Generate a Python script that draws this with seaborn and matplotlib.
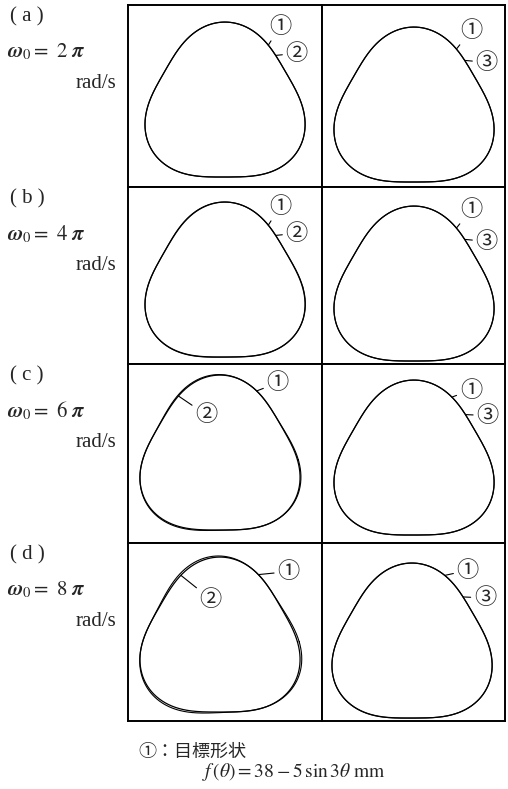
import numpy as np
import pandas as pd
import matplotlib
matplotlib.use("Agg")
import matplotlib.pyplot as plt
import seaborn as sns

sns.set_theme(style="white")
plt.rcParams["font.family"] = ["Liberation Serif", "Noto Sans CJK JP", "DejaVu Sans"]
plt.rcParams["mathtext.fontset"] = "stix"

# Target profile f(theta) = 38 - 5 sin 3theta  [mm]
base_radius = 38.0
ripple_amp = 5.0
lobes = 3

# Test cases
row_tags = ["( a )", "( b )", "( c )", "( d )"]
omega_multiples = [2, 4, 6, 8]          # omega_0 = k*pi rad/s
column_marks = ["②", "③"]

# Tracked contour per case: amplitude gain, phase lag [deg], radial offset [mm]
gain_2 = [1.00, 1.00, 1.02, 1.04]
lag_2 = [1.0, 2.0, 4.0, 7.0]
offset_2 = [0.0, 0.05, 0.25, 0.55]
gain_3 = [1.00, 1.00, 1.00, 1.00]
lag_3 = [0.5, 0.5, 0.8, 1.0]
offset_3 = [0.0, 0.0, 0.0, 0.05]

# ---- layout (figure pixels) ----
W, H = 508, 789
col_edges = [128, 322, 505]
row_edges = [5, 187, 364, 543, 721]
px_per_unit = 1.49          # radial display scale
r_origin = -14.0            # radial axis origin of every polar panel
r_max = 46.0
# curve centre inside each panel (pixels from the panel's top-left corner)
centre = [[(97, 102), (92, 107)],
          [(97, 100), (92, 104)],
          [(92, 96), (92, 101)],
          [(92, 99), (90, 105)]]

# leader angle on the curve [deg], label offset in pixels (dx, dy up)
lead_1 = [[(55.0, (12, 19)), (56.0, (15, 19))],
          [(55.0, (12, 19)), (56.0, (15, 19))],
          [(62.0, (21, 8)), (60.8, (19, 7))],
          [(60.3, (30, 3)), (65.7, (23, 5))]]
lead_r = [[(45.5, (21, 2)), (45.5, (22, -2))],
          [(45.5, (21, 2)), (45.5, (22, -2))],
          [(123.0, (28, -19)), (44.4, (22, -1))],
          [(120.4, (30, -24)), (45.0, (22, -1))]]

fig = plt.figure(figsize=(W / 100, H / 100), dpi=100)
fig.patch.set_facecolor("white")

theta = np.linspace(0, 2 * np.pi, 721)


def contour(gain, lag_deg, dr):
    r = base_radius + dr - ripple_amp * gain * np.sin(lobes * theta - np.deg2rad(lag_deg))
    return pd.DataFrame({"theta": theta, "r": r})


def point_at(deg):
    t = np.deg2rad(deg)
    return t, base_radius - ripple_amp * np.sin(lobes * t)


target = contour(1.0, 0.0, 0.0)
circ_font = ["Noto Sans CJK JP", "DejaVu Sans"]
half = (r_max - r_origin) * px_per_unit

for i in range(4):
    for j in range(2):
        x0, x1 = col_edges[j], col_edges[j + 1]
        y0, y1 = row_edges[i], row_edges[i + 1]
        # rectangular frame of the panel
        frame = fig.add_axes([x0 / W, 1 - y1 / H, (x1 - x0) / W, (y1 - y0) / H])
        frame.set_xticks([])
        frame.set_yticks([])
        for sp in frame.spines.values():
            sp.set_visible(True)
            sp.set_color("black")
            sp.set_linewidth(1.4)

        cx, cy = x0 + centre[i][j][0], y0 + centre[i][j][1]
        ax = fig.add_axes([(cx - half) / W, 1 - (cy + half) / H, 2 * half / W, 2 * half / H],
                          projection="polar")
        if j == 0:
            resp = contour(gain_2[i], lag_2[i], offset_2[i])
        else:
            resp = contour(gain_3[i], lag_3[i], offset_3[i])
        sns.lineplot(data=target, x="theta", y="r", sort=False, estimator=None,
                     color="black", lw=0.9, ax=ax)
        sns.lineplot(data=resp, x="theta", y="r", sort=False, estimator=None,
                     color="black", lw=0.8, ax=ax)
        ax.set_rlim(0, r_max)
        ax.set_rorigin(r_origin)
        ax.set_axis_off()
        ax.patch.set_visible(False)

        for (ang, off), mark in ((lead_1[i][j], "①"), (lead_r[i][j], column_marks[j])):
            ax.annotate(mark, xy=point_at(ang), xytext=off, textcoords="offset pixels",
                        ha="center", va="center", fontsize=16, family=circ_font,
                        annotation_clip=False,
                        arrowprops=dict(arrowstyle="-", lw=0.8, color="black",
                                        shrinkA=0, shrinkB=0))

    top = row_edges[i]
    fig.text(10 / W, 1 - (top + 12) / H, row_tags[i], ha="left", va="center", fontsize=15)
    fig.text(7 / W, 1 - (top + 47) / H, r"$\mathbfit{\omega}_0 =\ %d\ \mathbfit{\pi}$" % omega_multiples[i],
             ha="left", va="center", fontsize=15)
    fig.text(116 / W, 1 - (top + 78) / H, "rad/s", ha="right", va="center", fontsize=15)

fig.text(138 / W, 1 - 752 / H, "①：目標形状", ha="left", va="center", fontsize=13,
         family=["Noto Sans CJK JP", "DejaVu Sans"])
fig.text(202 / W, 1 - 772 / H, r"$f\,(\theta) = 38 - 5\,\sin 3\theta\ \mathrm{mm}$",
         ha="left", va="center", fontsize=14)

fig.savefig("out.png", dpi=100, facecolor="white")
